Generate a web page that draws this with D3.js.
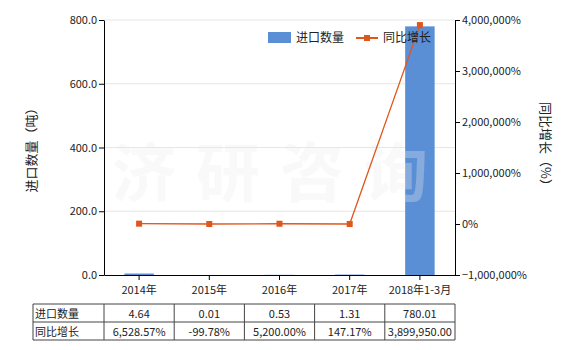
<!DOCTYPE html>
<html>
<head>
<meta charset="utf-8">
<script src="https://cdn.jsdelivr.net/npm/d3@7"></script>
<style>
  body { margin: 0; background: #fff; }
  text { font-family: "Microsoft YaHei", "Noto Sans CJK SC", sans-serif; }
</style>
</head>
<body>
<div id="chart"></div>
<script>
// data
var years = ['2014年', '2015年', '2016年', '2017年', '2018年1-3月']
var qty = [4.64, 0.01, 0.53, 1.31, 780.01]
var growth = [6528.57, -99.78, 5200.00, 147.17, 3899950.00]
var qtyLabels = ['4.64', '0.01', '0.53', '1.31', '780.01']
var growthLabels = ['6,528.57%', '-99.78%', '5,200.00%', '147.17%', '3,899,950.00']
var leftTicks = [0, 200, 400, 600, 800]
var rightTicks = [-1000000, 0, 1000000, 2000000, 3000000, 4000000]

var W = 580, H = 350
var plotL = 104, plotR = 455, plotT = 20, plotB = 275

var svg = d3.select("#chart").append("svg")
  .attr("width", W).attr("height", H)

var x = d3.scaleBand().domain(years).range([plotL, plotR]).paddingInner(0.58).paddingOuter(0.29)
var y = d3.scaleLinear().domain([0, 800]).range([plotB, plotT])
var y2 = d3.scaleLinear().domain([-1000000, 4000000]).range([plotB, plotT])

// gridlines
svg.append("g").selectAll("line").data(leftTicks.slice(1)).enter().append("line")
  .attr("x1", plotL).attr("x2", plotR)
  .attr("y1", function(d) { return y(d) }).attr("y2", function(d) { return y(d) })
  .attr("stroke", "#e6e6e6")

// bars
svg.append("g").selectAll("rect").data(qty).enter().append("rect")
  .attr("x", function(d, i) { return x(years[i]) })
  .attr("width", x.bandwidth())
  .attr("y", function(d) { return y(d) })
  .attr("height", function(d) { return plotB - y(d) })
  .attr("fill", "#5a8fd6")

// watermark (light overlay, shows as paler blue on the bar)
svg.append("text").attr("x", 280).attr("y", 196).attr("text-anchor", "middle")
  .attr("font-size", 64).attr("font-weight", "bold").attr("fill", "#ececec").attr("opacity", 0.3)
  .attr("letter-spacing", 20)
  .text("济研咨询")

// axes
var fmtL = d3.format(".1f")
var fmtR = function(d) { return d3.format(",")(d) + "%" }

var ax = svg.append("g").attr("transform", "translate(0," + plotB + ")")
  .call(d3.axisBottom(x).tickSize(5).tickSizeOuter(0))
var ayl = svg.append("g").attr("transform", "translate(" + plotL + ",0)")
  .call(d3.axisLeft(y).tickValues(leftTicks).tickFormat(fmtL).tickSize(5).tickSizeOuter(0))
var ayr = svg.append("g").attr("transform", "translate(" + plotR + ",0)")
  .call(d3.axisRight(y2).tickValues(rightTicks).tickFormat(fmtR).tickSize(5).tickSizeOuter(0))

;[ax, ayl, ayr].forEach(function(g) {
  g.selectAll("path,line").attr("stroke", "#000")
  g.selectAll("text").attr("font-size", 11).attr("fill", "#222")
    .style("font-family", "'Microsoft YaHei', 'Noto Sans CJK SC', sans-serif")
})
ax.selectAll("text").attr("dy", "1em")
ayl.selectAll("text").attr("dx", "0.1em")
ayr.selectAll("text").attr("dx", "-0.1em")

// line
var line = d3.line()
  .x(function(d, i) { return x(years[i]) + x.bandwidth() / 2 })
  .y(function(d) { return y2(d) })
svg.append("path").datum(growth).attr("d", line)
  .attr("fill", "none").attr("stroke", "#e0561b").attr("stroke-width", 1.3)
svg.append("g").selectAll("rect").data(growth).enter().append("rect")
  .attr("x", function(d, i) { return x(years[i]) + x.bandwidth() / 2 - 3 })
  .attr("y", function(d) { return y2(d) - 3 })
  .attr("width", 6).attr("height", 6)
  .attr("fill", "#e0561b")

// axis titles
svg.append("text").attr("transform", "translate(36,147) rotate(-90)")
  .attr("text-anchor", "middle").attr("font-size", 13).attr("fill", "#222")
  .text("进口数量（吨）")
svg.append("text").attr("transform", "translate(541,147) rotate(90)")
  .attr("text-anchor", "middle").attr("font-size", 13).attr("fill", "#222")
  .text("同比增长（%）")

// legend
var lg = svg.append("g")
lg.append("rect").attr("x", 268).attr("y", 32).attr("width", 23).attr("height", 11).attr("fill", "#5a8fd6")
lg.append("text").attr("x", 296).attr("y", 42).attr("font-size", 12).attr("fill", "#222").text("进口数量")
lg.append("line").attr("x1", 356).attr("x2", 378).attr("y1", 38).attr("y2", 38)
  .attr("stroke", "#e0561b").attr("stroke-width", 2)
lg.append("rect").attr("x", 364).attr("y", 35).attr("width", 6).attr("height", 6).attr("fill", "#e0561b")
lg.append("text").attr("x", 383).attr("y", 42).attr("font-size", 12).attr("fill", "#222").text("同比增长")

// data table
var tx0 = 33, ty = [304, 322, 340]
var t = svg.append("g")
var colX = [tx0, plotL].concat(years.map(function(d) { return x(d) + x.bandwidth() / 2 + x.step() / 2 }))
t.selectAll("line.h").data(ty).enter().append("line")
  .attr("x1", tx0).attr("x2", colX[colX.length - 1])
  .attr("y1", function(d) { return d }).attr("y2", function(d) { return d })
  .attr("stroke", "#444")
t.selectAll("line.v").data(colX).enter().append("line")
  .attr("x1", function(d) { return d }).attr("x2", function(d) { return d })
  .attr("y1", ty[0]).attr("y2", ty[2])
  .attr("stroke", "#444")
var rows = [["进口数量", qtyLabels], ["同比增长", growthLabels]]
rows.forEach(function(r, ri) {
  var yy = ty[ri] + 14
  t.append("text").attr("x", tx0 + 2).attr("y", yy).attr("font-size", 11).attr("fill", "#222").text(r[0])
  t.selectAll("text.c" + ri).data(r[1]).enter().append("text")
    .attr("x", function(d, i) { return x(years[i]) + x.bandwidth() / 2 })
    .attr("y", yy).attr("text-anchor", "middle").attr("font-size", 11).attr("fill", "#222")
    .text(function(d) { return d })
})
</script>
</body>
</html>
